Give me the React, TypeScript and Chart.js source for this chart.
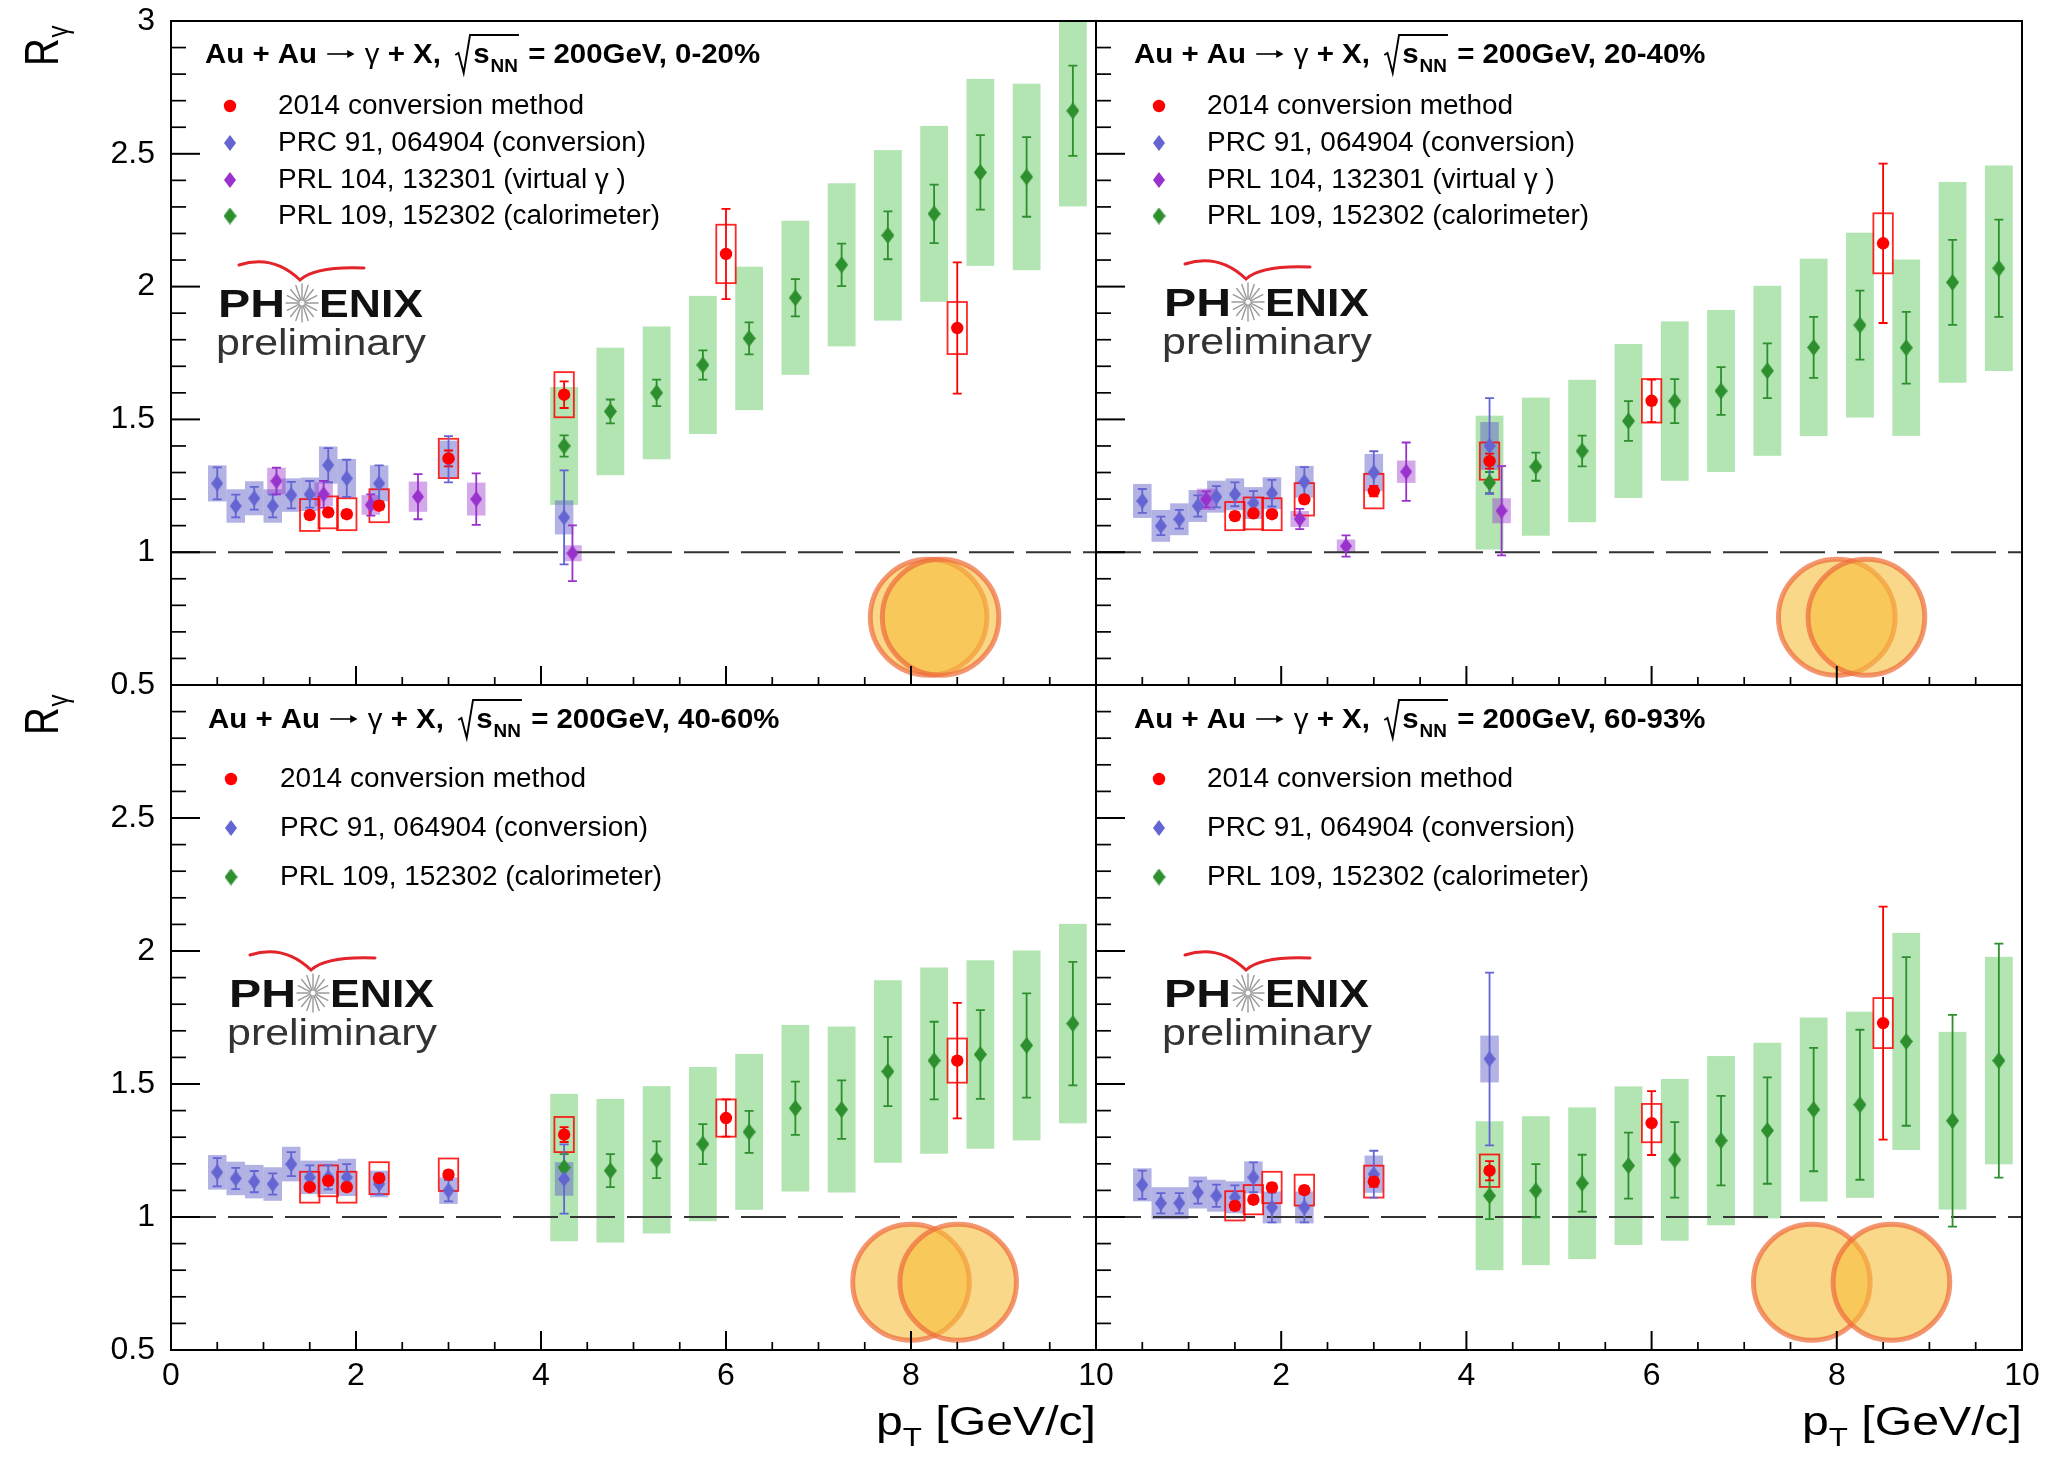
import React, { useEffect, useRef } from "react";
import { Chart, registerables } from "chart.js";
Chart.register(...registerables);

// ---------------- data ----------------
const X_TICK_LABELS = ["0", "2", "4", "6", "8", "10"];
const Y_TICK_LABELS = ["0.5", "1", "1.5", "2", "2.5", "3"];
const CENTRALITY = ["0-20%", "20-40%", "40-60%", "60-93%"];
const LEGEND_CONV = "2014 conversion method";
const LEGEND_PRC = "PRC 91, 064904 (conversion)";
const LEGEND_VIRT = "PRL 104, 132301 (virtual \u03b3 )";
const LEGEND_CALO = "PRL 109, 152302 (calorimeter)";

const PT_CONV14 = [1.5, 1.7, 1.9, 2.25, 3.0, 4.25, 6.0, 8.5];
const PT_PRC91 = [0.5, 0.7, 0.9, 1.1, 1.3, 1.5, 1.7, 1.9, 2.25, 3.0, 4.25];
const PT_CALO = [4.25, 4.75, 5.25, 5.75, 6.25, 6.75, 7.25, 7.75, 8.25, 8.75, 9.25, 9.75];
const PT_VIRT_0020 = [1.14, 1.65, 2.16, 2.67, 3.3, 4.34];
const PT_VIRT_2040 = [1.19, 2.2, 2.7, 3.35, 4.38];

// 0-20%
const CONV_R_0020 = [1.14, 1.15, 1.143, 1.175, 1.353, 1.593, 2.123, 1.844];
const CONV_STAT_0020 = [0.015, 0.015, 0.015, 0.015, 0.03, 0.05, 0.17, 0.247];
const CONV_SYS_0020 = [0.06, 0.06, 0.06, 0.062, 0.074, 0.085, 0.11, 0.098];
const PRC_R_0020 = [1.259, 1.174, 1.203, 1.174, 1.215, 1.218, 1.328, 1.278, 1.259, 1.35, 1.131];
const PRC_STAT_0020 = [0.06, 0.043, 0.043, 0.043, 0.05, 0.05, 0.064, 0.07, 0.068, 0.087, 0.177];
const PRC_SYS_0020 = [0.068, 0.063, 0.064, 0.063, 0.063, 0.063, 0.07, 0.073, 0.068, 0.07, 0.064];
const VIRT_R_0020 = [1.268, 1.218, 1.178, 1.209, 1.2, 0.996];
const VIRT_STAT_0020 = [0.05, 0.05, 0.04, 0.085, 0.097, 0.105];
const VIRT_SYS_0020 = [0.05, 0.045, 0.037, 0.057, 0.062, 0.03];
const CALO_R_0020 = [1.4, 1.53, 1.6, 1.705, 1.805, 1.958, 2.082, 2.193, 2.274, 2.43, 2.413, 2.662];
const CALO_STAT_0020 = [0.04, 0.045, 0.05, 0.055, 0.06, 0.07, 0.08, 0.09, 0.11, 0.14, 0.15, 0.17];
const CALO_SYS_0020 = [0.222, 0.24, 0.25, 0.26, 0.27, 0.29, 0.307, 0.321, 0.331, 0.352, 0.351, 0.36];

// 20-40%
const CONV_R_2040 = [1.136, 1.146, 1.143, 1.199, 1.23, 1.343, 1.57, 2.163];
const CONV_STAT_2040 = [0.015, 0.015, 0.015, 0.015, 0.02, 0.028, 0.08, 0.3];
const CONV_SYS_2040 = [0.053, 0.06, 0.06, 0.061, 0.065, 0.07, 0.082, 0.113];
const PRC_R_2040 = [1.193, 1.099, 1.124, 1.174, 1.209, 1.218, 1.185, 1.222, 1.265, 1.3, 1.4];
const PRC_STAT_2040 = [0.045, 0.035, 0.035, 0.04, 0.04, 0.045, 0.045, 0.05, 0.055, 0.08, 0.18];
const PRC_SYS_2040 = [0.064, 0.06, 0.06, 0.06, 0.06, 0.06, 0.06, 0.06, 0.06, 0.07, 0.09];
const VIRT_R_2040 = [1.199, 1.125, 1.023, 1.303, 1.156];
const VIRT_STAT_2040 = [0.03, 0.038, 0.04, 0.11, 0.168];
const VIRT_SYS_2040 = [0.04, 0.03, 0.025, 0.042, 0.047];
const CALO_R_2040 = [1.262, 1.322, 1.381, 1.494, 1.569, 1.607, 1.683, 1.771, 1.855, 1.77, 2.016, 2.069];
const CALO_STAT_2040 = [0.04, 0.053, 0.058, 0.075, 0.083, 0.09, 0.103, 0.115, 0.13, 0.135, 0.16, 0.183];
const CALO_SYS_2040 = [0.252, 0.26, 0.268, 0.29, 0.3, 0.305, 0.32, 0.334, 0.348, 0.332, 0.378, 0.387];

// 40-60%
const CONV_R_4060 = [1.112, 1.136, 1.112, 1.146, 1.159, 1.31, 1.372, 1.588];
const CONV_STAT_4060 = [0.015, 0.015, 0.015, 0.015, 0.015, 0.028, 0.07, 0.217];
const CONV_SYS_4060 = [0.058, 0.058, 0.058, 0.06, 0.061, 0.066, 0.07, 0.083];
const PRC_R_4060 = [1.168, 1.145, 1.133, 1.124, 1.199, 1.149, 1.149, 1.149, 1.124, 1.099, 1.143];
const PRC_STAT_4060 = [0.053, 0.04, 0.04, 0.04, 0.045, 0.045, 0.045, 0.05, 0.04, 0.04, 0.13];
const PRC_SYS_4060 = [0.065, 0.063, 0.063, 0.063, 0.065, 0.063, 0.063, 0.07, 0.05, 0.05, 0.063];
const CALO_R_4060 = [1.186, 1.174, 1.215, 1.274, 1.32, 1.409, 1.404, 1.547, 1.588, 1.611, 1.645, 1.727];
const CALO_STAT_4060 = [0.05, 0.062, 0.069, 0.075, 0.079, 0.1, 0.11, 0.13, 0.146, 0.167, 0.196, 0.232];
const CALO_SYS_4060 = [0.277, 0.27, 0.277, 0.29, 0.293, 0.313, 0.312, 0.343, 0.35, 0.354, 0.357, 0.375];

// 60-93%
const CONV_R_6093 = [1.042, 1.065, 1.111, 1.101, 1.133, 1.174, 1.353, 1.729];
const CONV_STAT_6093 = [0.015, 0.015, 0.015, 0.015, 0.02, 0.036, 0.12, 0.438];
const CONV_SYS_6093 = [0.055, 0.055, 0.059, 0.058, 0.06, 0.061, 0.072, 0.094];
const PRC_R_6093 = [1.121, 1.052, 1.052, 1.092, 1.08, 1.074, 1.149, 1.036, 1.036, 1.161, 1.594];
const PRC_STAT_6093 = [0.053, 0.038, 0.038, 0.042, 0.042, 0.045, 0.056, 0.056, 0.056, 0.088, 0.325];
const PRC_SYS_6093 = [0.062, 0.06, 0.06, 0.06, 0.06, 0.06, 0.06, 0.06, 0.06, 0.07, 0.088];
const CALO_R_6093 = [1.08, 1.099, 1.127, 1.193, 1.215, 1.287, 1.325, 1.404, 1.422, 1.66, 1.362, 1.588];
const CALO_STAT_6093 = [0.088, 0.1, 0.107, 0.124, 0.142, 0.168, 0.2, 0.232, 0.282, 0.317, 0.398, 0.44];
const CALO_SYS_6093 = [0.28, 0.28, 0.285, 0.298, 0.304, 0.318, 0.33, 0.346, 0.35, 0.408, 0.334, 0.39];

// uncertainty ellipses (centre x, common y, radii in data units)
const ELL_X_0020 = [8.19, 8.32];
const ELL_X_2040 = [8.0, 8.32];
const ELL_X_4060 = [8.0, 8.51];
const ELL_X_6093 = [7.73, 8.59];
const ELL_Y = 0.755;
const ELL_RX = 0.63;
const ELL_RY = 0.218;

// ---------------- styling / layout ----------------
const FONT = '"Liberation Sans", Arial, Helvetica, sans-serif';
const W = 2047;
const H = 1463;
const C_RED = "#ff0000";
const C_BLUE = "#6464d2";
const C_PURPLE = "#9932cc";
const C_GREEN = "#2d8f2d";
const F_BLUE = "rgba(102,102,204,0.5)";
const F_PURPLE = "rgba(153,51,204,0.42)";
const F_GREEN = "rgba(102,204,102,0.5)";

type Series = { x: number[]; y: number[]; stat: number[]; sys: number[] };
const ser = (x: number[], y: number[], stat: number[], sys: number[]): Series => ({ x, y, stat, sys });

const PANELS = [
  {
    cent: CENTRALITY[0],
    conv: ser(PT_CONV14, CONV_R_0020, CONV_STAT_0020, CONV_SYS_0020),
    prc: ser(PT_PRC91, PRC_R_0020, PRC_STAT_0020, PRC_SYS_0020),
    virt: ser(PT_VIRT_0020, VIRT_R_0020, VIRT_STAT_0020, VIRT_SYS_0020),
    calo: ser(PT_CALO, CALO_R_0020, CALO_STAT_0020, CALO_SYS_0020),
    ell: ELL_X_0020,
    area: { l: 171, r: 1096, t: 21, b: 685 },
    left: true, bottom: false, firstX: true, lastY: true,
    header: { x: 205, y: 63 }, legend: { mx: 230, tx: 278, rows: [106, 143, 180, 216] },
    logo: { x: 218, y: 317 }, rTitleY: 66,
  },
  {
    cent: CENTRALITY[1],
    conv: ser(PT_CONV14, CONV_R_2040, CONV_STAT_2040, CONV_SYS_2040),
    prc: ser(PT_PRC91, PRC_R_2040, PRC_STAT_2040, PRC_SYS_2040),
    virt: ser(PT_VIRT_2040, VIRT_R_2040, VIRT_STAT_2040, VIRT_SYS_2040),
    calo: ser(PT_CALO, CALO_R_2040, CALO_STAT_2040, CALO_SYS_2040),
    ell: ELL_X_2040,
    area: { l: 1096, r: 2022, t: 21, b: 685 },
    left: false, bottom: false, firstX: false, lastY: true,
    header: { x: 1134, y: 63 }, legend: { mx: 1159, tx: 1207, rows: [106, 143, 180, 216] },
    logo: { x: 1164, y: 316 }, rTitleY: 0,
  },
  {
    cent: CENTRALITY[2],
    conv: ser(PT_CONV14, CONV_R_4060, CONV_STAT_4060, CONV_SYS_4060),
    prc: ser(PT_PRC91, PRC_R_4060, PRC_STAT_4060, PRC_SYS_4060),
    virt: null,
    calo: ser(PT_CALO, CALO_R_4060, CALO_STAT_4060, CALO_SYS_4060),
    ell: ELL_X_4060,
    area: { l: 171, r: 1096, t: 685, b: 1350 },
    left: true, bottom: true, firstX: true, lastY: false,
    header: { x: 208, y: 728 }, legend: { mx: 231, tx: 280, rows: [779, 828, 877] },
    logo: { x: 229, y: 1007 }, rTitleY: 735,
  },
  {
    cent: CENTRALITY[3],
    conv: ser(PT_CONV14, CONV_R_6093, CONV_STAT_6093, CONV_SYS_6093),
    prc: ser(PT_PRC91, PRC_R_6093, PRC_STAT_6093, PRC_SYS_6093),
    virt: null,
    calo: ser(PT_CALO, CALO_R_6093, CALO_STAT_6093, CALO_SYS_6093),
    ell: ELL_X_6093,
    area: { l: 1096, r: 2022, t: 685, b: 1350 },
    left: false, bottom: true, firstX: false, lastY: false,
    header: { x: 1134, y: 728 }, legend: { mx: 1159, tx: 1207, rows: [779, 828, 877] },
    logo: { x: 1164, y: 1007 }, rTitleY: 0,
  },
];

// ---------------- helpers ----------------
function diamond(color: string, w: number, h: number) {
  const c = document.createElement("canvas");
  c.width = w;
  c.height = h;
  const g = c.getContext("2d")!;
  g.fillStyle = color;
  g.beginPath();
  g.moveTo(w / 2, 0);
  g.lineTo(w, h / 2);
  g.lineTo(w / 2, h);
  g.lineTo(0, h / 2);
  g.closePath();
  g.fill();
  return c;
}

function fitText(ctx: CanvasRenderingContext2D, text: string, x: number, y: number, font: string, width: number) {
  ctx.save();
  ctx.font = font;
  ctx.textAlign = "left";
  ctx.textBaseline = "alphabetic";
  const w = ctx.measureText(text).width;
  ctx.translate(x, y);
  ctx.scale(width / w, 1);
  ctx.fillText(text, 0, 0);
  ctx.restore();
}

function drawHeader(ctx: CanvasRenderingContext2D, x: number, base: number, cent: string) {
  const fb = `bold 28px ${FONT}`;
  const fr = `28px ${FONT}`;
  const fs = `bold 18px ${FONT}`;
  const ARROW_W = 30;
  ctx.save();
  ctx.textAlign = "left";
  ctx.textBaseline = "alphabetic";
  ctx.font = fb;
  const wA = ctx.measureText("Au + Au ").width;
  const wX = ctx.measureText(" + X, ").width;
  ctx.font = fr;
  const wG = ctx.measureText(" \u03b3").width;
  const w1 = wA + ARROW_W + wG + wX;
  const sx = 244 / w1;
  ctx.translate(x, base);
  ctx.scale(sx, 1);
  ctx.fillStyle = "#000";
  ctx.strokeStyle = "#000";
  ctx.font = fb;
  ctx.fillText("Au + Au ", 0, 0);
  // arrow
  let cx = wA;
  ctx.lineWidth = 1.6;
  ctx.beginPath();
  ctx.moveTo(cx + 2, -9);
  ctx.lineTo(cx + ARROW_W - 4, -9);
  ctx.stroke();
  ctx.beginPath();
  ctx.moveTo(cx + ARROW_W - 2, -9);
  ctx.lineTo(cx + ARROW_W - 9, -13);
  ctx.lineTo(cx + ARROW_W - 9, -5);
  ctx.closePath();
  ctx.fill();
  cx += ARROW_W;
  ctx.font = fr;
  ctx.fillText(" \u03b3", cx, 0);
  cx += wG;
  ctx.font = fb;
  ctx.fillText(" + X, ", cx, 0);
  cx += wX;
  const r0 = cx + 6;
  const sw = ctx.measureText("s").width;
  ctx.fillText("s", r0 + 17, 0);
  ctx.font = fs;
  const nw = ctx.measureText("NN").width;
  ctx.fillText("NN", r0 + 17 + sw + 1, 9);
  const end = r0 + 17 + sw + 1 + nw + 1;
  ctx.lineWidth = 1.8;
  ctx.beginPath();
  ctx.moveTo(r0, -8);
  ctx.lineTo(r0 + 3, -10);
  ctx.lineTo(r0 + 8, 10);
  ctx.lineTo(r0 + 14, -28);
  ctx.lineTo(end, -28);
  ctx.stroke();
  ctx.font = fb;
  ctx.fillText(" = 200GeV, " + cent, end + 1, 0);
  ctx.restore();
}

function drawLogo(ctx: CanvasRenderingContext2D, x: number, b: number) {
  ctx.save();
  ctx.textAlign = "left";
  ctx.textBaseline = "alphabetic";
  // red swoosh
  ctx.strokeStyle = "#e3242b";
  ctx.lineWidth = 3;
  ctx.lineCap = "round";
  ctx.beginPath();
  ctx.moveTo(x + 21, b - 52);
  ctx.quadraticCurveTo(x + 55, b - 63, x + 82, b - 37);
  ctx.quadraticCurveTo(x + 97, b - 51, x + 146, b - 49);
  ctx.stroke();
  // PH  ENIX
  ctx.fillStyle = "#111";
  const fb = `bold 38px ${FONT}`;
  ctx.font = fb;
  const wPH = ctx.measureText("PH").width;
  const wEN = ctx.measureText("ENIX").width;
  const sx1 = 67 / wPH;
  const sx2 = 104 / wEN;
  ctx.save(); ctx.translate(x, b); ctx.scale(sx1, 1); ctx.fillText("PH", 0, 0); ctx.restore();
  ctx.save(); ctx.translate(x + 101, b); ctx.scale(sx2, 1); ctx.fillText("ENIX", 0, 0); ctx.restore();
  // star
  ctx.strokeStyle = "#9a9a9a";
  ctx.lineWidth = 1.4;
  const sxc = x + 84, syc = b - 14;
  for (let k = 0; k < 16; k++) {
    const a = (k / 16) * Math.PI * 2;
    ctx.beginPath();
    ctx.moveTo(sxc + Math.cos(a) * 3, syc + Math.sin(a) * 3);
    ctx.lineTo(sxc + Math.cos(a) * 16, syc + Math.sin(a) * 19);
    ctx.stroke();
  }
  // preliminary
  ctx.fillStyle = "#333";
  fitText(ctx, "preliminary", x - 2, b + 38, `37px ${FONT}`, 210);
  ctx.restore();
}

function buildConfig(p: any, dia: any) {
  const pts = (s: Series) => s.x.map((x, i) => ({ x, y: s.y[i] }));
  const datasets: any[] = [
    { label: LEGEND_CONV, data: pts(p.conv), pointStyle: "circle", pointRadius: 6.2, backgroundColor: C_RED, borderWidth: 0 },
    { label: LEGEND_PRC, data: pts(p.prc), pointStyle: dia.blue, pointRadius: 7 },
  ];
  if (p.virt) datasets.push({ label: LEGEND_VIRT, data: pts(p.virt), pointStyle: dia.purple, pointRadius: 7 });
  datasets.push({ label: LEGEND_CALO, data: pts(p.calo), pointStyle: dia.green, pointRadius: 7 });

  const plugin = {
    id: "rootStyle",
    beforeDatasetsDraw(chart: any) {
      const { ctx, chartArea: a } = chart;
      const xs = chart.scales.x;
      const ys = chart.scales.y;
      const X = (v: number) => xs.getPixelForValue(v);
      const Y = (v: number) => ys.getPixelForValue(v);
      ctx.save();
      ctx.beginPath();
      ctx.rect(a.left, a.top, a.right - a.left, a.bottom - a.top);
      ctx.clip();
      // ellipses
      for (const ex of p.ell) {
        ctx.beginPath();
        ctx.ellipse(X(ex), Y(ELL_Y), Math.abs(X(ex + ELL_RX) - X(ex)), Math.abs(Y(ELL_Y + ELL_RY) - Y(ELL_Y)), 0, 0, Math.PI * 2);
        ctx.fillStyle = "rgba(247,190,60,0.6)";
        ctx.fill();
        ctx.strokeStyle = "rgba(238,110,60,0.72)";
        ctx.lineWidth = 5;
        ctx.stroke();
      }
      const boxes = (s: Series, hw: number, fill: string | null, stroke: string | null) => {
        s.x.forEach((x, i) => {
          const x0 = X(x - hw), x1 = X(x + hw);
          const y0 = Y(s.y[i] + s.sys[i]), y1 = Y(s.y[i] - s.sys[i]);
          if (fill) { ctx.fillStyle = fill; ctx.fillRect(x0, y0, x1 - x0, y1 - y0); }
          if (stroke) { ctx.strokeStyle = stroke; ctx.lineWidth = 1.8; ctx.strokeRect(x0, y0, x1 - x0, y1 - y0); }
        });
      };
      boxes(p.calo, 0.15, F_GREEN, null);
      boxes(p.prc, 0.1, F_BLUE, null);
      if (p.virt) boxes(p.virt, 0.1, F_PURPLE, null);
      // dashed unity line
      ctx.save();
      ctx.strokeStyle = "#333";
      ctx.lineWidth = 2;
      ctx.setLineDash([45, 12]);
      ctx.beginPath();
      ctx.moveTo(a.left, Y(1));
      ctx.lineTo(a.right, Y(1));
      ctx.stroke();
      ctx.restore();
      boxes(p.conv, 0.105, null, "rgba(255,0,0,0.85)");
      const bars = (s: Series, col: string) => {
        ctx.strokeStyle = col;
        ctx.lineWidth = 1.8;
        s.x.forEach((x, i) => {
          const px = X(x);
          const t = Y(s.y[i] + s.stat[i]), bt = Y(s.y[i] - s.stat[i]);
          ctx.beginPath();
          ctx.moveTo(px, t); ctx.lineTo(px, bt);
          ctx.moveTo(px - 4.5, t); ctx.lineTo(px + 4.5, t);
          ctx.moveTo(px - 4.5, bt); ctx.lineTo(px + 4.5, bt);
          ctx.stroke();
        });
      };
      bars(p.calo, C_GREEN);
      bars(p.prc, C_BLUE);
      if (p.virt) bars(p.virt, C_PURPLE);
      bars(p.conv, C_RED);
      ctx.restore();
    },
    afterDatasetsDraw(chart: any) {
      const { ctx, chartArea: a } = chart;
      const xs = chart.scales.x;
      const ys = chart.scales.y;
      ctx.save();
      // frame
      ctx.strokeStyle = "#000";
      ctx.lineWidth = 2;
      ctx.strokeRect(a.left, a.top, a.right - a.left, a.bottom - a.top);
      // y ticks
      for (let k = 5; k <= 30; k++) {
        const v = k / 10;
        const py = ys.getPixelForValue(v);
        const major = k % 5 === 0;
        ctx.lineWidth = major ? 2 : 1.7;
        ctx.beginPath();
        ctx.moveTo(a.left, py);
        ctx.lineTo(a.left + (major ? 29 : 15), py);
        ctx.stroke();
      }
      // x ticks
      for (let k = 0; k <= 20; k++) {
        const v = k / 2;
        const px = xs.getPixelForValue(v);
        const major = k % 4 === 0;
        ctx.lineWidth = major ? 2 : 1.7;
        ctx.beginPath();
        ctx.moveTo(px, a.bottom);
        ctx.lineTo(px, a.bottom - (major ? 19 : 8));
        ctx.stroke();
      }
      ctx.fillStyle = "#000";
      // y tick labels
      if (p.left) {
        ctx.save();
        ctx.font = `32px ${FONT}`;
        ctx.textAlign = "right";
        ctx.textBaseline = "middle";
        Y_TICK_LABELS.forEach((lab, i) => {
          if (!p.lastY && i === Y_TICK_LABELS.length - 1) return;
          ctx.fillText(lab, a.left - 16, ys.getPixelForValue(parseFloat(lab)));
        });
        ctx.restore();
        // R_gamma title (rotated)
        ctx.save();
        ctx.translate(58, p.rTitleY);
        ctx.rotate(-Math.PI / 2);
        ctx.scale(0.8, 1);
        ctx.textAlign = "left";
        ctx.textBaseline = "alphabetic";
        ctx.font = `48px ${FONT}`;
        ctx.fillText("R", 0, 0);
        const rw = ctx.measureText("R").width;
        ctx.font = `30px ${FONT}`;
        ctx.fillText("\u03b3", rw + 1, 10);
        ctx.restore();
      }
      if (p.bottom) {
        ctx.save();
        ctx.font = `32px ${FONT}`;
        ctx.textAlign = "center";
        ctx.textBaseline = "middle";
        X_TICK_LABELS.forEach((lab, i) => {
          if (!p.firstX && i === 0) return;
          ctx.fillText(lab, xs.getPixelForValue(parseFloat(lab)), 1376);
        });
        ctx.restore();
        // p_T title
        ctx.save();
        ctx.textAlign = "left";
        ctx.textBaseline = "alphabetic";
        const f1 = `40px ${FONT}`, f2 = `26px ${FONT}`;
        ctx.font = f1; const wp = ctx.measureText("p").width; const wg = ctx.measureText(" [GeV/c]").width;
        ctx.font = f2; const wt = ctx.measureText("T").width;
        const tot = wp + wt + wg;
        const sx = 220 / tot;
        ctx.translate(a.right - 220, 1435);
        ctx.scale(sx, 1);
        ctx.font = f1; ctx.fillText("p", 0, 0);
        ctx.font = f2; ctx.fillText("T", wp, 11);
        ctx.font = f1; ctx.fillText(" [GeV/c]", wp + wt, 0);
        ctx.restore();
      }
      // header
      drawHeader(ctx, p.header.x, p.header.y, p.cent);
      // legend
      const entries: [string, any][] = [[LEGEND_CONV, "circle"], [LEGEND_PRC, dia.blue]];
      if (p.virt) entries.push([LEGEND_VIRT, dia.purple]);
      entries.push([LEGEND_CALO, dia.green]);
      ctx.font = `27px ${FONT}`;
      const lsx = 306 / ctx.measureText(LEGEND_CONV).width;
      entries.forEach(([lab, sty], i) => {
        const ry = p.legend.rows[i];
        if (sty === "circle") {
          ctx.fillStyle = C_RED;
          ctx.beginPath();
          ctx.arc(p.legend.mx, ry, 6.2, 0, Math.PI * 2);
          ctx.fill();
        } else {
          ctx.drawImage(sty, p.legend.mx - sty.width / 2, ry - sty.height / 2);
        }
        ctx.fillStyle = "#000";
        ctx.save();
        ctx.translate(p.legend.tx, ry);
        ctx.scale(lsx, 1);
        ctx.font = `27px ${FONT}`;
        ctx.textAlign = "left";
        ctx.textBaseline = "middle";
        ctx.fillText(lab, 0, 1);
        ctx.restore();
      });
      drawLogo(ctx, p.logo.x, p.logo.y);
      ctx.restore();
    },
  };

  return {
    type: "scatter" as const,
    data: { datasets },
    options: {
      animation: false as const,
      responsive: false,
      devicePixelRatio: 1,
      events: [],
      layout: { padding: { left: p.area.l, right: W - p.area.r, top: p.area.t, bottom: H - p.area.b } },
      plugins: { legend: { display: false }, tooltip: { enabled: false } },
      scales: {
        x: { type: "linear" as const, min: 0, max: 10, display: false },
        y: { type: "linear" as const, min: 0.5, max: 3, display: false },
      },
    },
    plugins: [plugin],
  };
}

export default function App() {
  const r0 = useRef<HTMLCanvasElement>(null);
  const r1 = useRef<HTMLCanvasElement>(null);
  const r2 = useRef<HTMLCanvasElement>(null);
  const r3 = useRef<HTMLCanvasElement>(null);
  const refs = [r0, r1, r2, r3];
  useEffect(() => {
    const dia = {
      blue: diamond(C_BLUE, 12, 16),
      purple: diamond(C_PURPLE, 12, 16),
      green: diamond(C_GREEN, 13, 17),
    };
    const charts = PANELS.map((p, i) => new Chart(refs[i].current as HTMLCanvasElement, buildConfig(p, dia) as any));
    return () => charts.forEach((c) => c.destroy());
  }, []);
  return (
    <div style={{ position: "absolute", left: 0, top: 0, width: W, height: H, background: "#fff", overflow: "hidden" }}>
      {refs.map((r, i) => (
        <canvas key={i} ref={r} width={W} height={H} style={{ position: "absolute", left: 0, top: 0, width: W, height: H }} />
      ))}
    </div>
  );
}
